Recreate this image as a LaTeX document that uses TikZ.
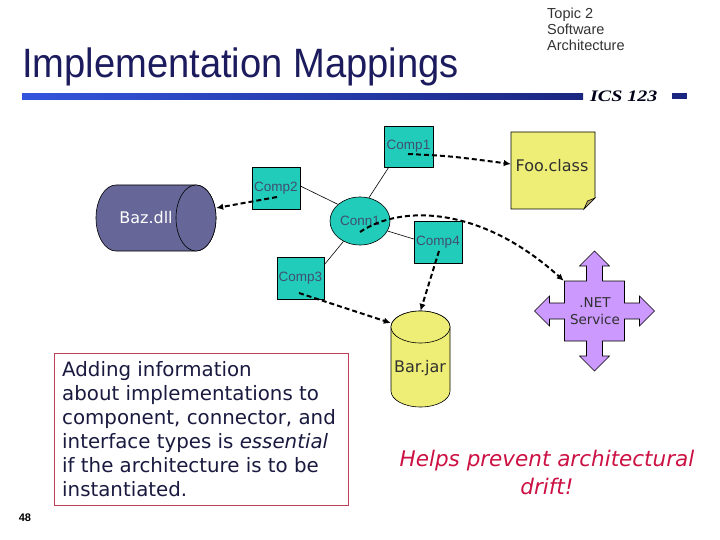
\documentclass[tikz,border=0pt]{standalone}
\usepackage{fontspec}
\usepackage{graphicx}
\setmainfont{DejaVu Sans}
\newfontfamily\arialf{Liberation Sans}
\newfontfamily\timesf{Liberation Serif}
\usetikzlibrary{arrows.meta,shapes.geometric}
\definecolor{turq}{HTML}{22CCBB}
\definecolor{comptext}{HTML}{3F4F6F}
\definecolor{bazc}{HTML}{666699}
\definecolor{yel}{HTML}{EEEE77}
\definecolor{foldc}{HTML}{B5A66E}
\definecolor{purp}{HTML}{CC99FF}
\definecolor{navy}{HTML}{1B1B5E}
\definecolor{bodytext}{HTML}{1A1A40}
\definecolor{redtext}{HTML}{CC1144}
\definecolor{boxred}{HTML}{C0405A}
\definecolor{barleft}{HTML}{3355DD}
\definecolor{barright}{HTML}{1A2680}
\definecolor{lbltext}{HTML}{303030}
\begin{document}
\begin{tikzpicture}[x=1pt,y=-1pt,
  comp/.style={draw, line width=0.6pt, fill=turq, minimum width=48pt, minimum height=42pt, inner sep=0pt, font=\arialf\fontsize{13.5}{13.5}\selectfont, text=comptext},
  link/.style={line width=0.6pt},
  impl/.style={line width=2pt, dash pattern=on 5pt off 3pt, -{Latex[length=7pt,width=6.5pt]}},
  ghost/.style={inner sep=0pt, draw=none},
  lbl/.style={inner sep=0pt, font=\fontsize{16}{16}\selectfont, text=lbltext},
  shapeline/.style={line width=0.6pt, draw=black},
]
\useasboundingbox (0,0) rectangle (720,540);
\fill[white] (0,0) rectangle (720,540);

% header
\node[anchor=base west, inner sep=0pt, font=\arialf\fontsize{41}{41}\selectfont, text=navy] (title) at (22,78) {\scalebox{0.93}[1]{Implementation Mappings}};
\node[anchor=north west, inner sep=0pt, align=left, font=\arialf\fontsize{14.5}{16}\selectfont, text=black!80] (topic) at (547,8) {Topic 2\\Software\\Architecture};
\shade[left color=barleft, right color=barright] (22,93.5) rectangle (583,99.5);
\node[anchor=base west, inner sep=0pt, font=\timesf\bfseries\itshape\fontsize{16}{16}\selectfont, text=black!90!blue] (ics) at (590,101.5) {\scalebox{1.25}[1]{ICS 123}};
\fill[barright] (672,93.5) rectangle (687,99.5);

% Baz.dll cylinder
\filldraw[shapeline, fill=bazc] (116,185) -- (196,185) arc[start angle=-90, end angle=90, x radius=20, y radius=33] -- (116,251) arc[start angle=90, end angle=270, x radius=20, y radius=33] -- cycle;
\filldraw[shapeline, fill=bazc] (196,218) ellipse [x radius=20, y radius=33];
\node[ghost, minimum width=120pt, minimum height=66pt] (baz) at (156,218) {};
\node[lbl, text=white] (bazlabel) at (146,218) {Baz.dll};

% Foo.class note
\filldraw[shapeline, fill=yel] (511,132) -- (595,132) -- (595,198) -- (584,209) -- (511,209) -- cycle;
\filldraw[shapeline, fill=foldc] (595,198) -- (587.5,201) -- (584,209) -- cycle;
\node[ghost, minimum width=84pt, minimum height=77pt] (foo) at (553,170.5) {};
\node[lbl] (foolabel) at (552,166) {Foo.class};

% Bar.jar cylinder
\filldraw[shapeline, fill=yel] (391,327) -- (391,391) arc[start angle=180, end angle=0, x radius=29.5, y radius=16] -- (450,327) arc[start angle=0, end angle=-180, x radius=29.5, y radius=16] -- cycle;
\filldraw[shapeline, fill=yel] (420.5,327) ellipse [x radius=29.5, y radius=16];
\node[ghost, minimum width=59pt, minimum height=96pt] (bar) at (420.5,359) {};
\node[lbl] (barlabel) at (420,368) {Bar.jar};

% .NET Service
\filldraw[shapeline, fill=purp, shift={(594.5,311)}]
  (0,-60) -- (15,-45) -- (8,-45) -- (8,-30) -- (30,-30) -- (30,-8) -- (45,-8) -- (45,-15) -- (60,0)
  -- (45,15) -- (45,8) -- (30,8) -- (30,30) -- (8,30) -- (8,45) -- (15,45) -- (0,60)
  -- (-15,45) -- (-8,45) -- (-8,30) -- (-30,30) -- (-30,8) -- (-45,8) -- (-45,15) -- (-60,0)
  -- (-45,-15) -- (-45,-8) -- (-30,-8) -- (-30,-30) -- (-8,-30) -- (-8,-45) -- (-15,-45) -- cycle;
\node[ghost, minimum width=61pt, minimum height=60pt] (net) at (594.5,311) {};
\node[lbl, align=center, font=\fontsize{13.5}{17}\selectfont] (netlabel) at (595,311.5) {.NET\\Service};

% components and connector
\node[comp, minimum width=49pt, minimum height=41pt] (comp1) at (408.5,146.5) {Comp1};
\node[comp] (comp2) at (276,188) {Comp2};
\node[comp] (comp4) at (438,242) {Comp4};
\node[comp, minimum width=47pt] (comp3) at (300.5,278) {Comp3};
\node[draw, line width=0.6pt, ellipse, fill=turq, minimum width=60pt, minimum height=48pt, inner sep=0pt, font=\arialf\fontsize{13.5}{13.5}\selectfont, text=comptext] (conn1) at (360,221) {Conn1};

\draw[link] (conn1.69) -- ([xshift=5pt]comp1.south west);
\draw[link] (conn1.143) -- ([yshift=2pt]comp2.east);
\draw[link] (conn1.231) -- ([yshift=-8pt]comp3.north east);
\draw[link] (conn1.340) -- ([yshift=3pt]comp4.west);

% implementation mappings
\coordinate (c1s) at (408,154);
\coordinate (c2s) at (277,197);
\coordinate (c3s) at (299,293);
\coordinate (c4s) at (439,251);
\coordinate (k1s) at (360,232);
\draw[impl] (c1s) .. controls (450,156) .. ([yshift=6.5pt]foo.west);
\draw[impl] (c2s) -- ([yshift=10pt]baz.east);
\draw[impl] (k1s) .. controls (400,205) and (480,205) .. (net.north west);
\draw[impl] (c4s) -- (bar.north);
\draw[impl] (c3s) -- ([yshift=36pt]bar.west);

% text box
\draw[boxred, line width=0.8pt] (54,353) rectangle (348,505);
\node[anchor=north west, inner sep=0pt, align=left, font=\fontsize{19.8}{24}\selectfont, text=bodytext] (note) at (62,361) {Adding information\\about implementations to\\component, connector, and\\interface types is \textit{essential}\\if the architecture is to be\\instantiated.};

\node[anchor=north, inner sep=0pt, align=center, font=\itshape\fontsize{21.5}{28}\selectfont, text=redtext] (helps) at (547,450) {Helps prevent architectural\\drift!};

\node[inner sep=0pt, font=\arialf\bfseries\fontsize{11}{11}\selectfont] (pagenum) at (25,518) {48};
\end{tikzpicture}
\end{document}
